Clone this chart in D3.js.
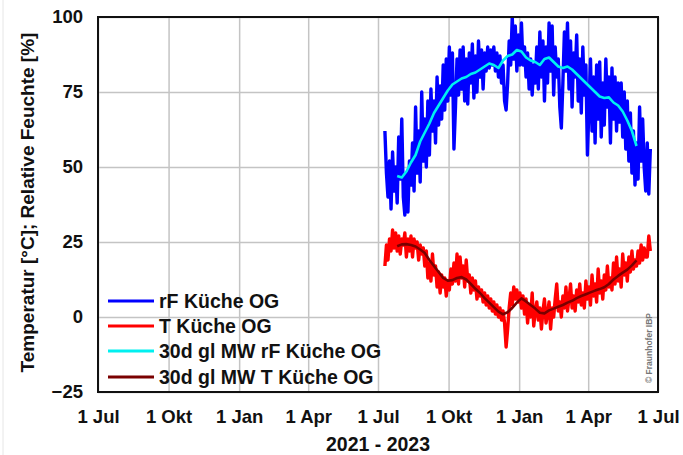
<!DOCTYPE html>
<html>
<head>
<meta charset="utf-8">
<script src="https://cdn.jsdelivr.net/npm/d3@7"></script>
<style>
  html, body { margin: 0; padding: 0; background: #fff; }
  svg { display: block; }
  text { font-family: "Liberation Sans", Arial, sans-serif; font-weight: bold; }
</style>
</head>
<body>
<svg id="chart" width="683" height="455"></svg>
<script>
// ---------- data ----------
const xDomain = ["2021-07-01", "2023-07-01"];
const xTickDates = ["2021-07-01","2021-10-01","2022-01-01","2022-04-01","2022-07-01","2022-10-01","2023-01-01","2023-04-01","2023-07-01"];
const xTickLabels = ["1 Jul","1 Okt","1 Jan","1 Apr","1 Jul","1 Okt","1 Jan","1 Apr","1 Jul"];
const yTicks = [-25, 0, 25, 50, 75, 100];
const yDomain = [-25, 100];

// raw measurements, every 2 days from start date
const rawStart = "2022-07-10";
const rawStepDays = 2;
const rfKueche = [
 62,48,40,52,36,55,42,50,38,60,
 46,66,40,34,48,35,52,44,58,42,
 70,48,62,45,75,52,66,50,72,54,
 76,62,72,58,80,64,77,66,84,69,
 86,72,90,74,88,56,70,86,74,89,
 76,90,72,86,71,88,78,91,73,87,
 75,92,80,89,76,88,82,90,83,89,
 84,90,82,88,80,87,78,84,72,69,
 78,92,84,100,86,97,82,94,84,98,
 84,90,80,88,76,86,74,84,78,90,
 76,95,80,92,72,90,78,98,82,97,
 74,90,80,86,70,63,78,95,82,98,
 76,92,70,88,80,94,72,86,68,90,
 74,84,54,70,86,62,80,58,84,66,
 85,60,78,64,86,70,80,58,83,66,
 80,62,78,65,78,60,75,56,72,52,
 68,48,62,44,58,46,70,52,66,50,
 42,58,41,56];
const tKueche = [
 17,24,19,26,22,29,23,28,22,27,
 21,26,24,28,20,26,22,27,20,26,
 23,25,19,24,21,23,17,22,13,18,
 12,21,14,17,10,15,8,14,10,13,
 7,12,9,16,11,18,12,21,11,20,
 13,17,10,19,12,14,8,13,9,12,
 6,10,7,9,5,8,4,7,3,6,
 2,5,1,4,0,3,-1,2,-2,-10,
 -4,3,8,4,10,6,9,5,8,3,
 7,1,6,-2,4,0,8,-3,2,5,
 -1,3,-4,2,6,-2,1,5,-4,3,
 0,6,11,2,5,0,7,3,10,2,
 6,11,3,7,2,9,5,11,4,8,
 3,12,6,10,4,14,7,11,5,16,
 8,12,6,14,9,17,10,13,9,18,
 11,20,12,16,10,21,14,18,12,20,
 15,22,16,19,17,22,18,24,19,23,
 20,20,27,22];

// 30-day moving averages, every 6 days from start date
const maStart = "2022-07-26";
const maStepDays = 6;
const maRF = [
 47,46.5,48.5,51.5,54,58.5,61.5,64.5,68,70.5,
 73,75.5,77.5,78.5,79.5,80,81,81.5,82.5,83.5,
 84.5,84,83,85.5,87,87.5,89,88.5,86.5,85.5,
 85,84,86,86.5,85,83.5,83,83.5,82.5,81,
 79.5,78,76.5,75,73.5,73,73.2,71.5,70.5,68.5,
 65.5,62,57];
const maT = [
 23.6,24.2,24.3,24,23.5,22.5,21.3,19,17,15,
 13,12.1,12.3,13,13.3,12.5,11,9.4,8,6.3,
 4.8,3.3,1.8,0.9,1.6,3,4.8,6.2,5.2,4,
 2.8,1.4,1.2,2.2,2.8,3.4,4,4.8,5.4,6.3,
 7,7.6,8.2,8.8,9.3,9.9,11,12.5,13.7,14.8,
 15.8,17.2,18.9];

const seriesNames = ["rF Küche OG", "T Küche OG", "30d gl MW rF Küche OG", "30d gl MW T Küche OG"];
const seriesColors = ["#0000ff", "#ff0000", "#00f0f0", "#7a0000"];
const yTitle = "Temperatur [°C]; Relative Feuchte [%]";
const xTitle = "2021 - 2023";
const copyright = "© Fraunhofer IBP";

// ---------- drawing ----------
const svg = d3.select("#chart");
const M = { left: 98, right: 658, top: 17, bottom: 392 };
const parse = d3.utcParse("%Y-%m-%d");
const x = d3.scaleUtc().domain(xDomain.map(parse)).range([M.left, M.right]);
const y = d3.scaleLinear().domain(yDomain).range([M.bottom, M.top]);

function datesFrom(start, step, n) {
  const s = parse(start);
  return d3.range(n).map(i => d3.utcDay.offset(s, i * step));
}
const rawDates = datesFrom(rawStart, rawStepDays, rfKueche.length);
const maDates = datesFrom(maStart, maStepDays, maRF.length);

// faint image border line
svg.append("line").attr("x1", 3).attr("x2", 3).attr("y1", 0).attr("y2", 455)
  .attr("stroke", "#e6e6e6").attr("stroke-width", 1);

// grid
const tickDates = xTickDates.map(parse);
svg.append("g").attr("transform", `translate(0,${M.bottom})`)
  .call(d3.axisBottom(x).tickValues(tickDates).tickSize(-(M.bottom - M.top)).tickFormat(""))
  .call(g => g.select(".domain").remove())
  .call(g => g.selectAll("line").attr("stroke", "#c4c4c4").attr("stroke-width", 1.5));
svg.append("g").attr("transform", `translate(${M.left},0)`)
  .call(d3.axisLeft(y).tickValues(yTicks).tickSize(-(M.right - M.left)).tickFormat(""))
  .call(g => g.select(".domain").remove())
  .call(g => g.selectAll("line").attr("stroke", "#c4c4c4").attr("stroke-width", 1.5));

// tick labels
svg.append("g").attr("transform", `translate(0,${M.bottom})`)
  .call(d3.axisBottom(x).tickValues(tickDates).tickSize(0).tickPadding(18)
    .tickFormat((d, i) => xTickLabels[i]))
  .call(g => g.select(".domain").remove())
  .call(g => g.selectAll("text").attr("font-size", 18.5).attr("fill", "#111")
    .attr("font-family", "Liberation Sans, Arial, sans-serif").attr("font-weight", "bold"));
svg.append("g").attr("transform", `translate(${M.left},0)`)
  .call(d3.axisLeft(y).tickValues(yTicks).tickSize(0).tickPadding(15))
  .call(g => g.select(".domain").remove())
  .call(g => g.selectAll("text").attr("font-size", 18.5).attr("fill", "#111")
    .attr("font-family", "Liberation Sans, Arial, sans-serif").attr("font-weight", "bold"));

// lines
const clip = svg.append("clipPath").attr("id", "clip").append("rect")
  .attr("x", M.left).attr("y", M.top).attr("width", M.right - M.left).attr("height", M.bottom - M.top);
const plot = svg.append("g").attr("clip-path", "url(#clip)");
const line = d3.line().x(d => x(d[0])).y(d => y(d[1]));
const draw = (dates, vals, color, w) => plot.append("path")
  .datum(dates.map((d, i) => [d, vals[i]]))
  .attr("d", line).attr("fill", "none").attr("stroke", color)
  .attr("stroke-width", w).attr("stroke-linejoin", "round");
draw(rawDates, rfKueche, seriesColors[0], 3.4);
draw(rawDates, tKueche, seriesColors[1], 3.4);
draw(maDates, maRF, seriesColors[2], 2.6);
draw(maDates, maT, seriesColors[3], 2.6);

// frame
svg.append("rect").attr("x", M.left).attr("y", M.top)
  .attr("width", M.right - M.left).attr("height", M.bottom - M.top)
  .attr("fill", "none").attr("stroke", "#111").attr("stroke-width", 2);

// legend
const lg = svg.append("g");
const rowY = [301, 326, 351, 377];
seriesNames.forEach((name, i) => {
  lg.append("line").attr("x1", 108).attr("x2", 154).attr("y1", rowY[i]).attr("y2", rowY[i])
    .attr("stroke", seriesColors[i]).attr("stroke-width", 3);
  lg.append("text").attr("x", 159).attr("y", rowY[i] + 7).attr("font-size", 19.5)
    .attr("fill", "#111").text(name);
});

// titles
svg.append("text").attr("x", 378).attr("y", 451).attr("text-anchor", "middle")
  .attr("font-size", 19.5).attr("fill", "#111").text(xTitle);
svg.append("text").attr("transform", `translate(34,${(M.top + M.bottom) / 2 - 2}) rotate(-90)`)
  .attr("text-anchor", "middle").attr("font-size", 19).attr("fill", "#111").text(yTitle);

// copyright
svg.append("text").attr("transform", `translate(652,348) rotate(-90)`)
  .attr("text-anchor", "middle").attr("font-size", 8.5).attr("font-weight", "normal")
  .attr("fill", "#777").text(copyright);
</script>
</body>
</html>
